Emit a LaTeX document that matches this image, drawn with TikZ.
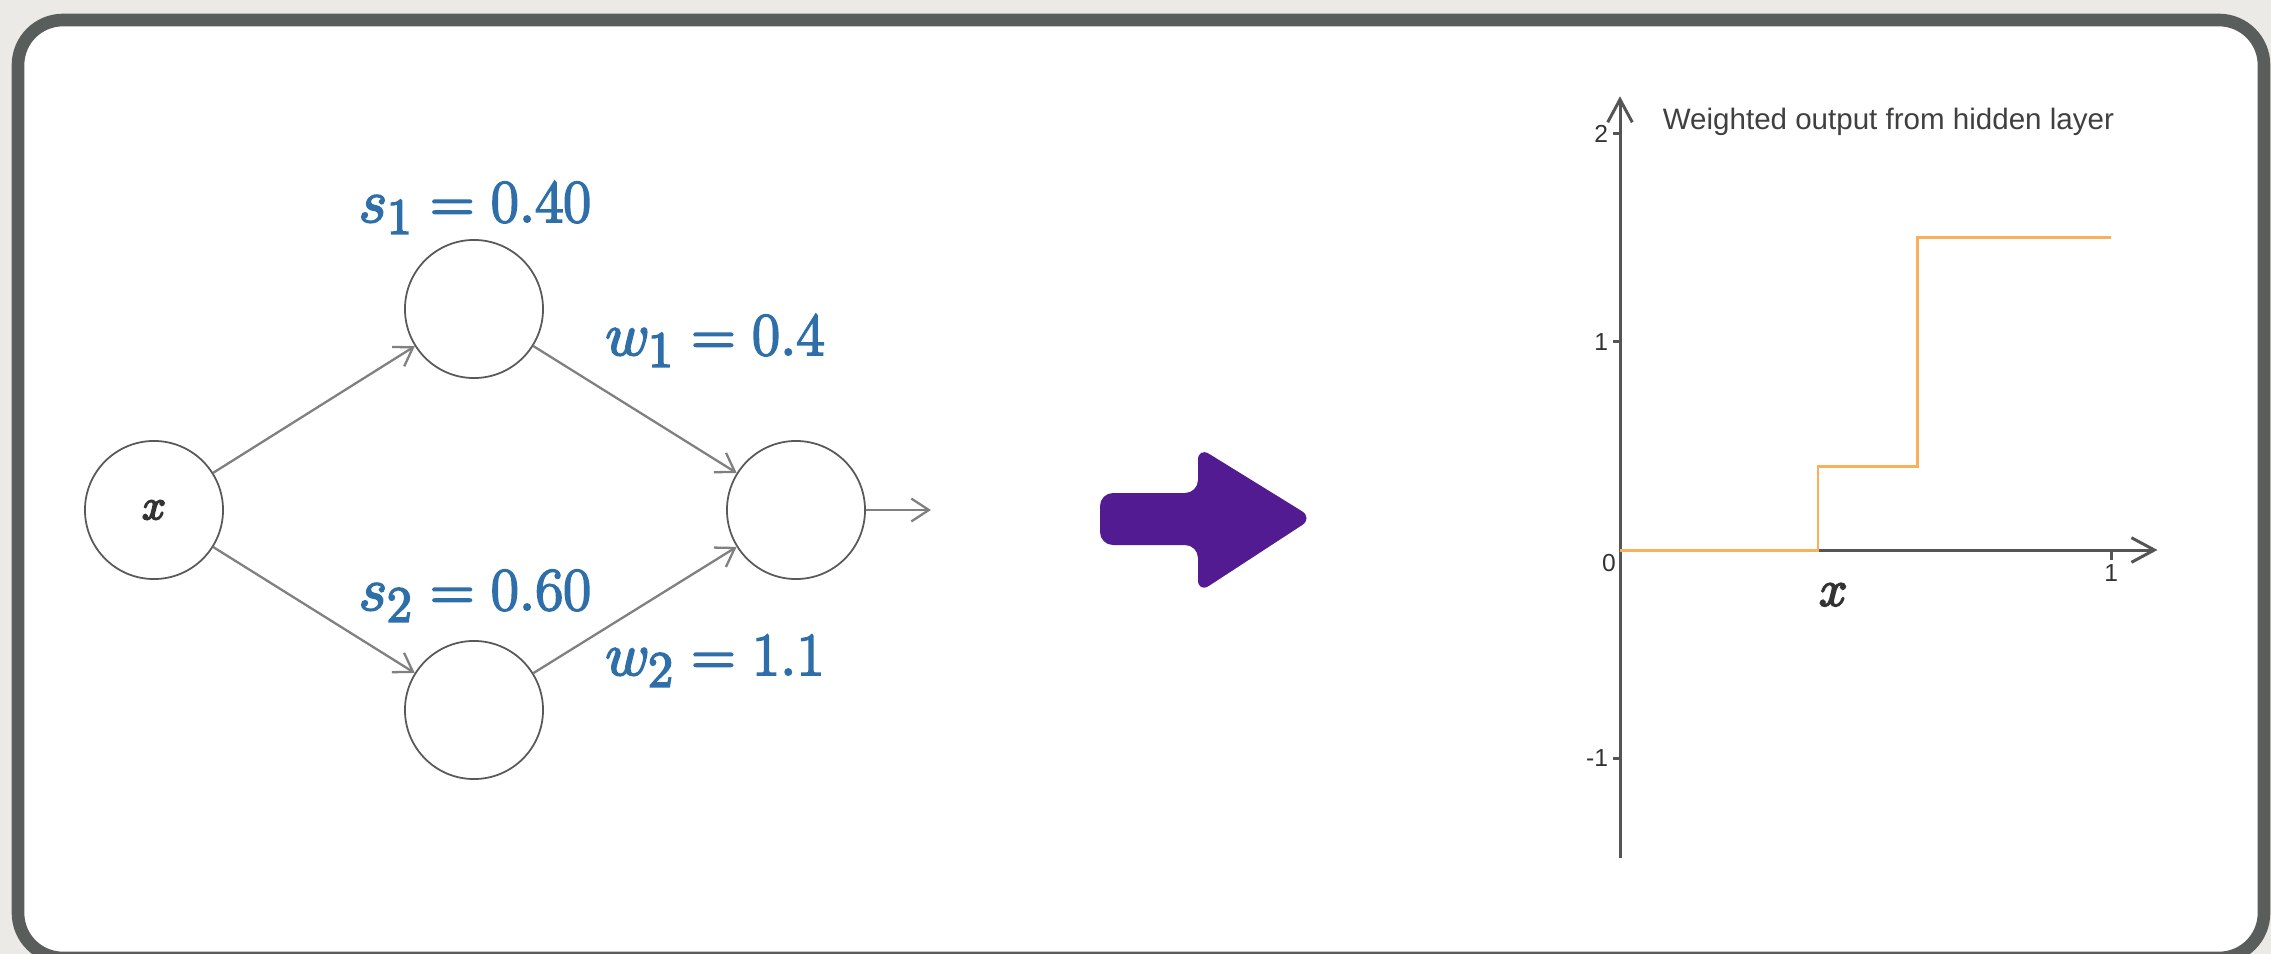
\documentclass[tikz,border=0pt]{standalone}
\usepackage{fontspec}
\newfontfamily\plotfont{Liberation Sans}
\usepackage{xcolor}
\usepackage{tikz}
\usetikzlibrary{arrows.meta, positioning}

\definecolor{paper}{HTML}{ECEAE6}
\definecolor{framegray}{HTML}{595D5B}
\definecolor{labelblue}{HTML}{2E6FAA}
\definecolor{arrowpurple}{HTML}{521B92}
\definecolor{stepyellow}{HTML}{F8B05A}
\definecolor{axisgray}{HTML}{555555}

% heavier strokes for the blue labels
\newcommand{\heavy}[1]{\special{pdf:literal direct 2 Tr 0.55 w}#1\special{pdf:literal direct 0 Tr 0.4 w}}

\begin{document}
\begin{tikzpicture}[
    x=0.01cm, y=-0.01cm,
    >={Straight Barb[length=5pt, width=6.5pt]},
    frame/.style={draw=framegray, fill=white, line width=3.6pt, rounded corners=0.45cm},
    neuron/.style={circle, draw=black!65, line width=0.5pt, minimum size=1.38cm,
                   inner sep=0pt, text=black!80, font=\fontsize{13}{15}\selectfont},
    wlabel/.style={text=labelblue, font=\fontsize{19}{22}\selectfont, inner sep=0pt, anchor=base},
    conn/.style={->, draw=black!50, line width=0.65pt},
    bigarrow/.style={fill=arrowpurple, rounded corners=0.13cm},
    axisline/.style={draw=axisgray, line width=0.85pt},
    plotarrow/.style={-{Straight Barb[length=6.5pt, width=7pt]}},
    ticklbl/.style={font=\plotfont\fontsize{7}{8}\selectfont, text=black!80, inner sep=1pt},
    stepline/.style={draw=stepyellow, line width=0.85pt},
]

% paper and frame
\fill[paper] (0,0) rectangle (2271,954);
\useasboundingbox (0,0) rectangle (2271,954);
\draw[frame] (18,20) rectangle (2264,958);

% network
\node[neuron] (x) at (154,510) {\heavy{$x$}};
\node[neuron] (h1) at (474,309) {};
\node[neuron] (h2) at (474,710) {};
\node[neuron] (out) at (796,510) {};
\coordinate (yout) at (931,510);

\draw[conn] (x) -- (h1);
\draw[conn] (x) -- (h2);
\draw[conn] (h1) -- (out);
\draw[conn] (h2) -- (out);
\draw[conn] (out) -- (yout);

\node[wlabel] (s1) at (475,222) {\heavy{$s_1 = 0.40$}};
\node[wlabel] (w1) at (715,355) {\heavy{$w_1 = 0.4$}};
\node[wlabel] (s2) at (475,610) {\heavy{$s_2 = 0.60$}};
\node[wlabel] (w2) at (715,675) {\heavy{$w_2 = 1.1$}};

% purple arrow
\fill[bigarrow] (1100,493) -- (1198,493) -- (1198,447) -- (1313,518)
    -- (1198,593) -- (1198,545) -- (1100,545) -- cycle;

% plot
\begin{scope}[shift={(1620,550)}, x=4.91cm, y=2.08cm]
  \draw[axisline, plotarrow] (0,-1.48) -- (0,2.18);
  \draw[axisline, plotarrow] (0,0) -- (1.094,0);
  \foreach \v in {2,1,-1}
    \draw[axisline] (0,\v) -- ++(-0.07cm,0) node[ticklbl, anchor=east] {\v};
  \draw[axisline] (1,0) -- ++(0,-0.1cm) node[ticklbl, anchor=north] {1};
  \node[ticklbl, anchor=north east] (zero) at (0,0) {0};
  \draw[stepline] (0,0) -- (0.403,0) -- (0.403,0.4) -- (0.605,0.4) -- (0.605,1.5) -- (1.0,1.5);
  \node[text=black!80, font=\fontsize{14}{16}\selectfont] (xlbl) at (0.434,-0.215) {\heavy{$x$}};
  \node[anchor=base west, text=black!75, font=\plotfont\fontsize{8.4}{10}\selectfont] (title)
    at (0.062,2.02) {Weighted output from hidden layer};
\end{scope}
\end{tikzpicture}
\end{document}
